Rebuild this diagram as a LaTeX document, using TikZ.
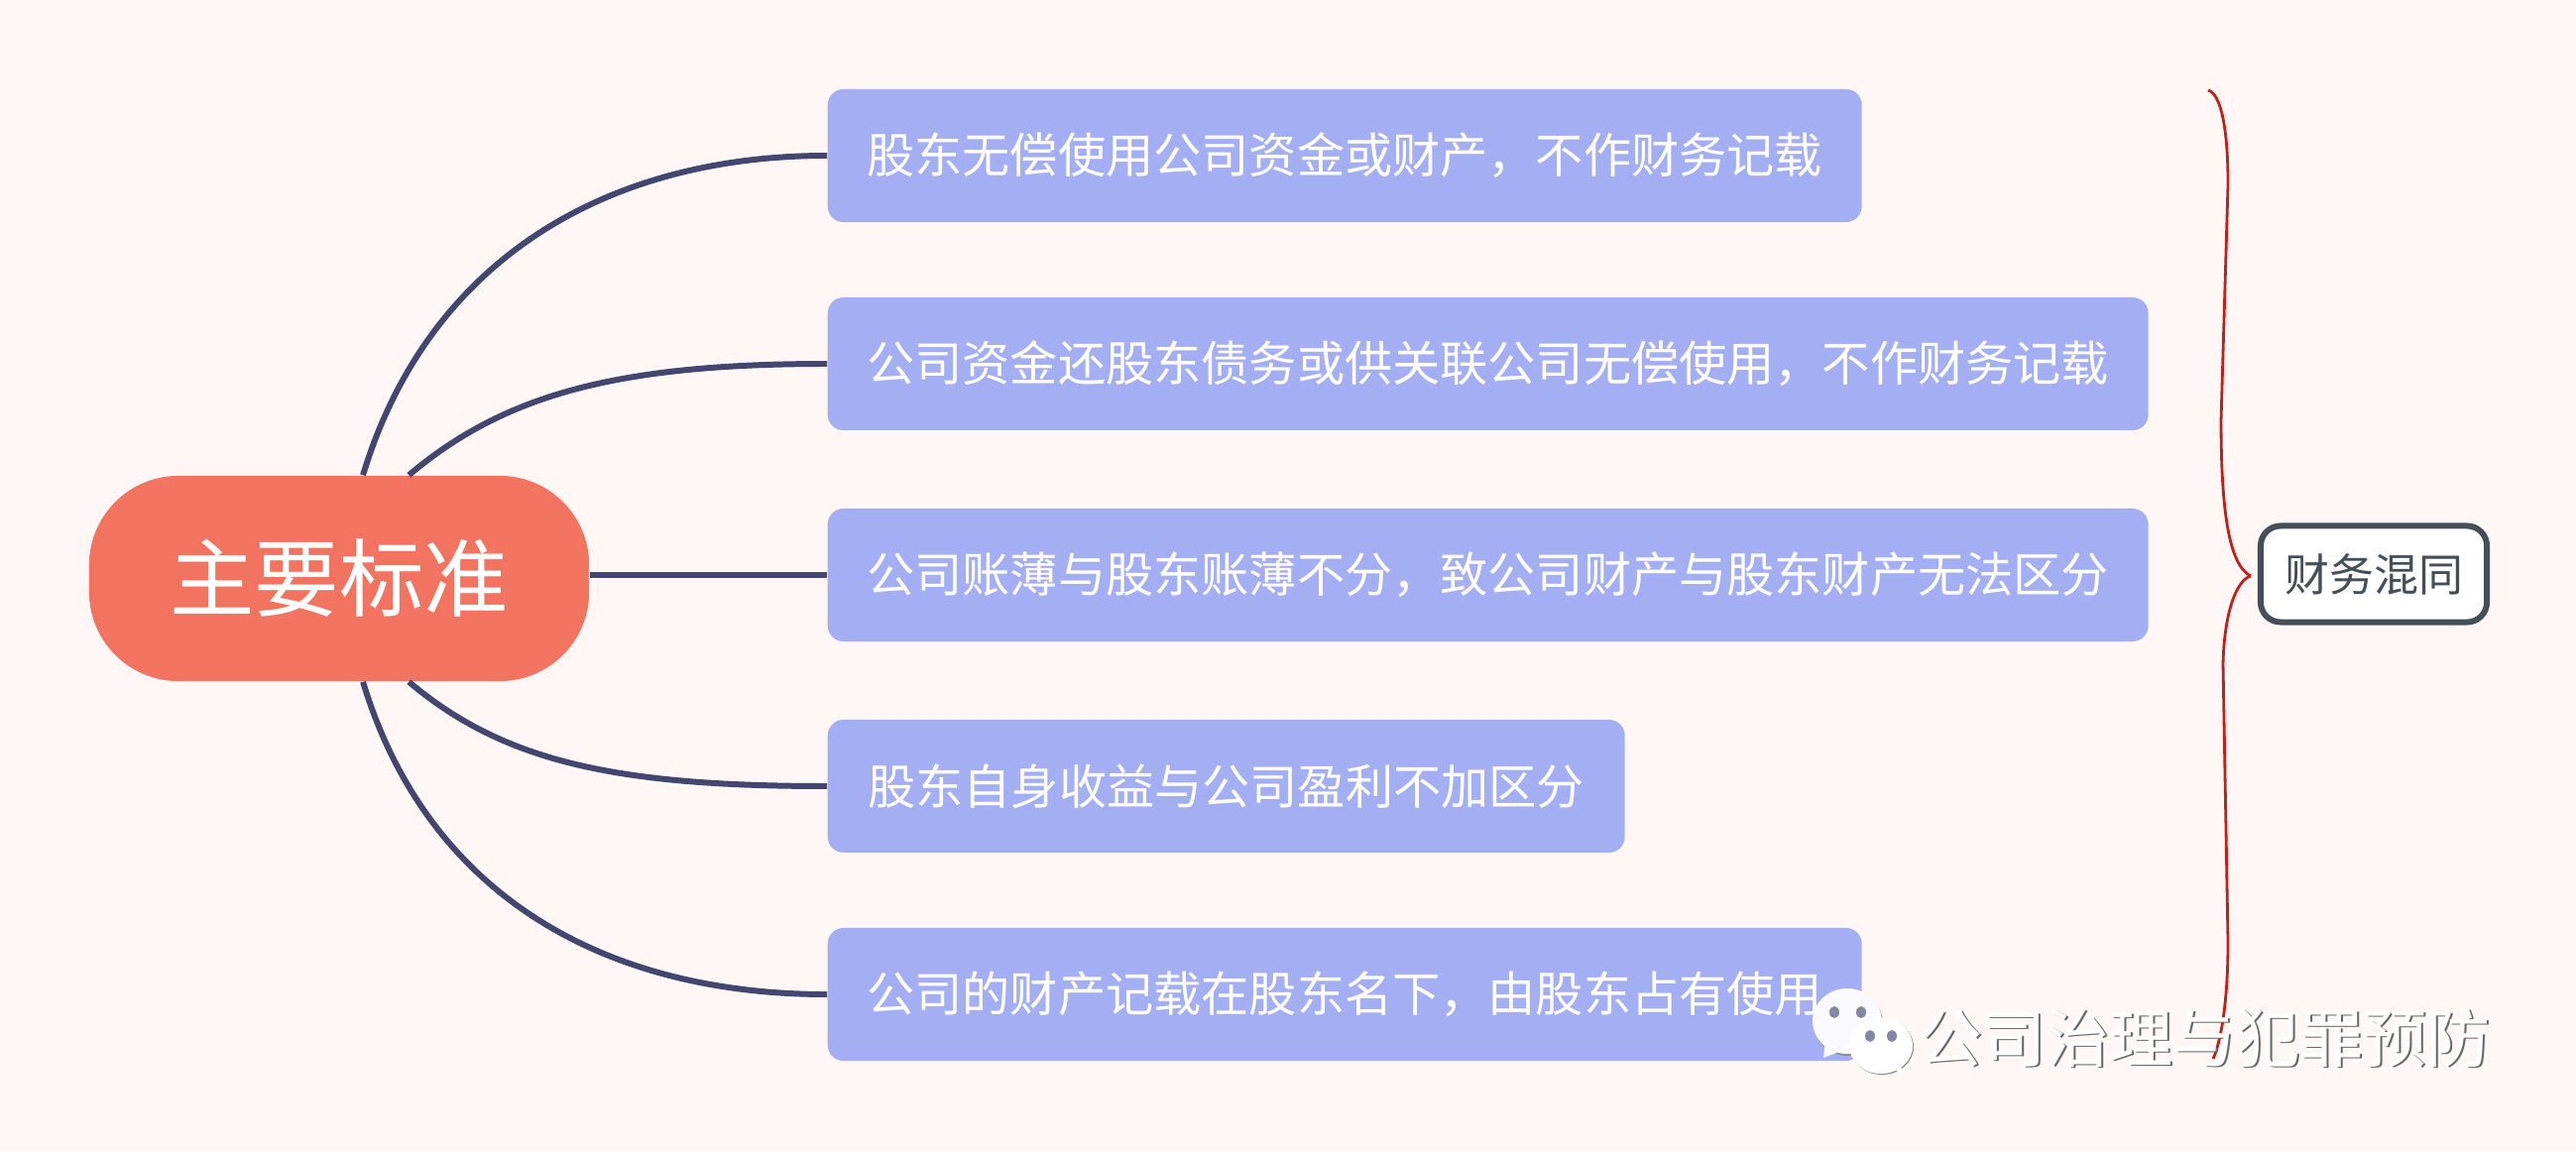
\documentclass[tikz,border=0pt]{standalone}
\usepackage{fontspec}
\setmainfont{Noto Sans CJK SC}
\definecolor{paperbg}{HTML}{FFF7F5}
\definecolor{rootfill}{HTML}{F37361}
\definecolor{itemfill}{HTML}{A4AEF3}
\definecolor{linkcol}{HTML}{434670}
\definecolor{bracecol}{HTML}{C0201C}
\definecolor{notecol}{HTML}{454F59}
\tikzset{
  rootbox/.style={fill=rootfill, text=white, rounded corners=0.9cm, inner sep=0pt,
    minimum width=5.04cm, minimum height=2.07cm, font=\fontsize{24.3}{28}\selectfont},
  itembox/.style={fill=itemfill, text=white, rounded corners=0.16cm, inner sep=0pt,
    anchor=west, minimum height=1.34cm, font=\fontsize{13.7}{16}\selectfont},
  notebox/.style={draw=notecol, line width=1.7pt, fill=white, text=notecol, rounded corners=0.2cm,
    inner sep=0pt, minimum width=2.28cm, minimum height=0.97cm, font=\fontsize{12.8}{15}\selectfont},
  link/.style={linkcol, line width=1.7pt},
  brace/.style={bracecol, line width=0.8pt},
  markfont/.style={anchor=west, inner sep=0pt, font=\fontsize{18.2}{20}\selectfont}
}
\begin{document}
\begin{tikzpicture}[x=0.01cm, y=-0.01cm]
    % Background
    \fill[paperbg] (0,0) rectangle (2598,1161);
    \useasboundingbox (0,0) rectangle (2598,1161);

    % Root
    \node[rootbox] (root) at (342,583.5) {主要标准};

    % Item boxes
    \foreach \name/\y/\w/\label in {itema/157/1043/股东无偿使用公司资金或财产，不作财务记载,
                                    itemb/367/1332/公司资金还股东债务或供关联公司无偿使用，不作财务记载,
                                    itemc/580/1332/公司账薄与股东账薄不分，致公司财产与股东财产无法区分,
                                    itemd/793/804/股东自身收益与公司盈利不加区分,
                                    iteme/1003/1043/公司的财产记载在股东名下，由股东占有使用}
      \node[itembox, minimum width=\w*0.01cm] (\name) at (834,\y) {\label};

    % Trajectories from the root
    \draw[link] (root.77) .. controls +(65,-215) and +(-225,0) .. (itema.west);
    \draw[link] (root.56.7) .. controls +(95,-80) and +(-215,0) .. (itemb.west);
    \draw[link] (root.east |- itemc.west) -- (itemc.west);
    \draw[link] (root.-56.7) .. controls +(95,80) and +(-215,0) .. (itemd.west);
    \draw[link] (root.-77) .. controls +(65,215) and +(-225,0) .. (iteme.west);

    % Brace and note
    \node[notebox] (note) at (2394,579) {财务混同};
    \coordinate (bracetop) at (2227,91);
    \coordinate (bracetip) at (2270,581);
    \coordinate (braceend) at (2232,1068);
    \draw[brace] (bracetop) .. controls (2240,95) and (2247,130) .. (2247,186)
      -- (2240,424) .. controls (2240,510) and (2247,570) .. (bracetip);
    \draw[brace] (bracetip) .. controls (2255,585) and (2243,620) .. (2242,670)
      -- (2247,950) .. controls (2247,1010) and (2240,1050) .. (braceend);

    % Chat icon
    \fill[black!45] (1864,1032) ellipse [x radius=35, y radius=33];
    \fill[white!94!itemfill] (1863,1030) ellipse [x radius=35, y radius=33];
    \fill[white!94!itemfill] (1841,1050) -- (1839,1067) -- (1862,1058) -- cycle;
    \fill[black!45] (1898,1056) ellipse [x radius=32, y radius=28];
    \fill[white] (1897,1055) ellipse [x radius=32, y radius=28];
    \fill[white] (1908,1076) -- (1919,1085) -- (1916,1070) -- cycle;
    \foreach \x/\y in {1850/1021, 1877/1021, 1886/1045, 1908/1045}
      \fill[linkcol!65] (\x,\y) ellipse [x radius=5, y radius=6];

    % Mark text, with its shadow below
    \node[markfont, text=black!60] (markshadow) at (1936.5,1048.5) {公司治理与犯罪预防};
    \node[markfont, text=white] (marktext) at (1935,1047) {公司治理与犯罪预防};
  \end{tikzpicture}
\end{document}
